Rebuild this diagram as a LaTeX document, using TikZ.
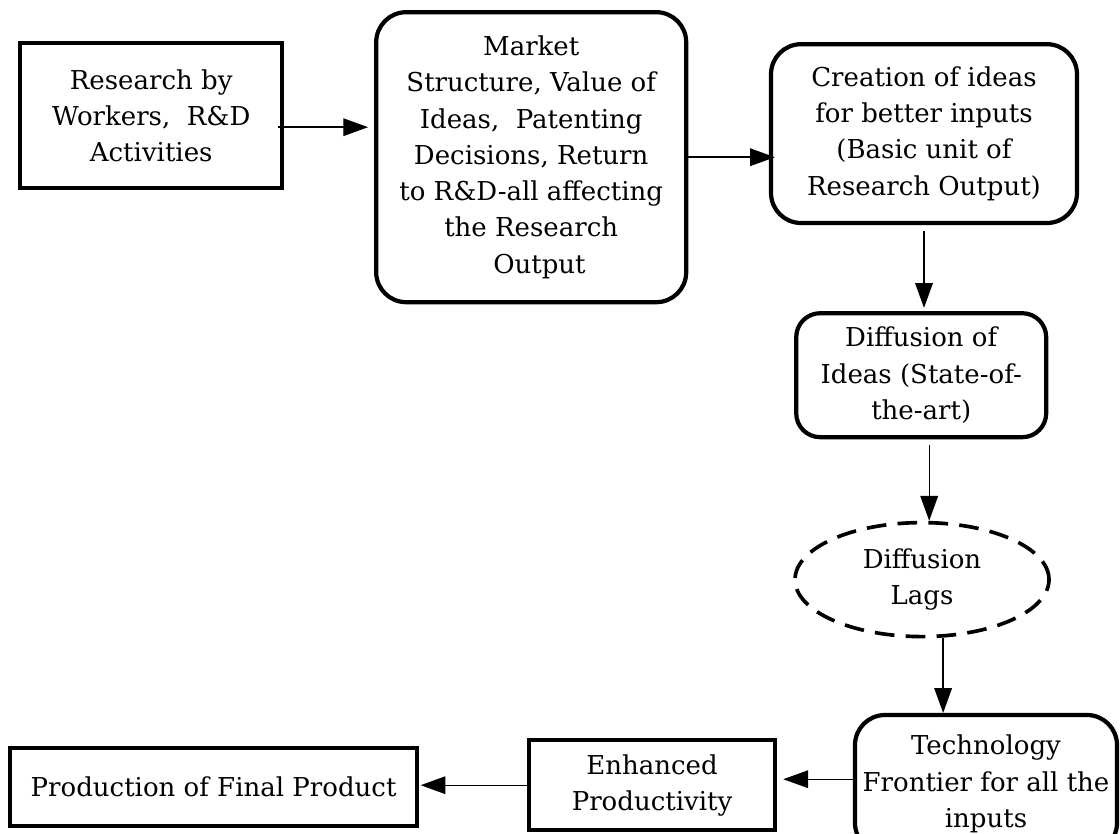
\documentclass[tikz,border=0pt]{standalone}
\usepackage{fontspec}
\setmainfont{DejaVu Serif}
\usepackage{tikz}
\usetikzlibrary{shapes.geometric, arrows.meta}

\begin{document}
\begin{tikzpicture}[
    every node/.style={font=\fontsize{18.5}{25.8}\selectfont, align=center, inner sep=0pt},
    sqbox/.style={draw, line width=3.2pt},
    rbox/.style={draw, line width=3pt, rounded corners=0.75cm},
    lagnode/.style={draw, ellipse, dashed, line width=2.6pt, dash pattern=on 14pt off 8pt},
    arr/.style={-{Triangle[length=0.62cm, width=0.44cm]}, line width=1pt}
]
    \useasboundingbox (0,0) rectangle (28,-20.85);

    % Top row
    \node[sqbox, minimum width=6.55cm, minimum height=3.62cm] (research) at (3.78,-2.89)
        {Research by\\Workers,\ \ R\&D\\Activities};
    \node[rbox, minimum width=7.75cm, minimum height=7.25cm] (market) at (13.28,-3.93)
        {Market\\Structure, Value of\\Ideas,\ \ Patenting\\Decisions, Return\\to R\&D-all affecting\\the Research\\\ \ Output};
    \node[rbox, minimum width=7.65cm, minimum height=4.47cm] (ideas) at (23.1,-3.34)
        {Creation of ideas\\for better inputs\\(Basic unit of\\Research Output)};

    % Right column
    \node[rbox, rounded corners=0.6cm, minimum width=6.25cm, minimum height=3.1cm] (diffusion) at (23.03,-9.38)
        {Diffusion of\\Ideas (State-of-\\the-art)};
    \node[lagnode, minimum width=6.35cm, minimum height=2.85cm] (lags) at (23.05,-14.49)
        {Diffusion\\Lags};
    \node[rbox, minimum width=6.55cm, minimum height=3.45cm] (frontier) at (24.65,-19.6)
        {Technology\\Frontier for all the\\inputs};

    % Bottom row
    \node[sqbox, minimum width=6.15cm, minimum height=2.25cm] (enhanced) at (16.3,-19.63)
        {Enhanced\\Productivity};
    \node[sqbox, minimum width=10.18cm, minimum height=1.95cm] (final) at (5.34,-19.68)
        {Production of Final Product};

    % Connectors
    \coordinate (r1) at (0,-3.18);
    \draw[arr] ([xshift=-0.15cm]research.east |- r1) -- ([xshift=-0.15cm]market.west |- r1);
    \draw[arr] (market.east) -- ([xshift=0.15cm]ideas.west |- market.east);
    \draw[arr] ([yshift=-0.15cm]ideas.south) -- ([yshift=0.08cm]ideas.south |- diffusion.north);
    \draw[arr] ([xshift=0.2cm, yshift=-0.15cm]diffusion.south) -- ([xshift=0.2cm]diffusion.south |- lags.north);
    \draw[arr] (lags.-70) -- (lags.-70 |- frontier.north);
    \draw[arr] ([yshift=0.12cm]frontier.west) -- ([xshift=0.15cm, yshift=0.12cm]frontier.west -| enhanced.east);
    \draw[arr] (enhanced.west) -- ([xshift=0.03cm]enhanced.west -| final.east);
\end{tikzpicture}
\end{document}
